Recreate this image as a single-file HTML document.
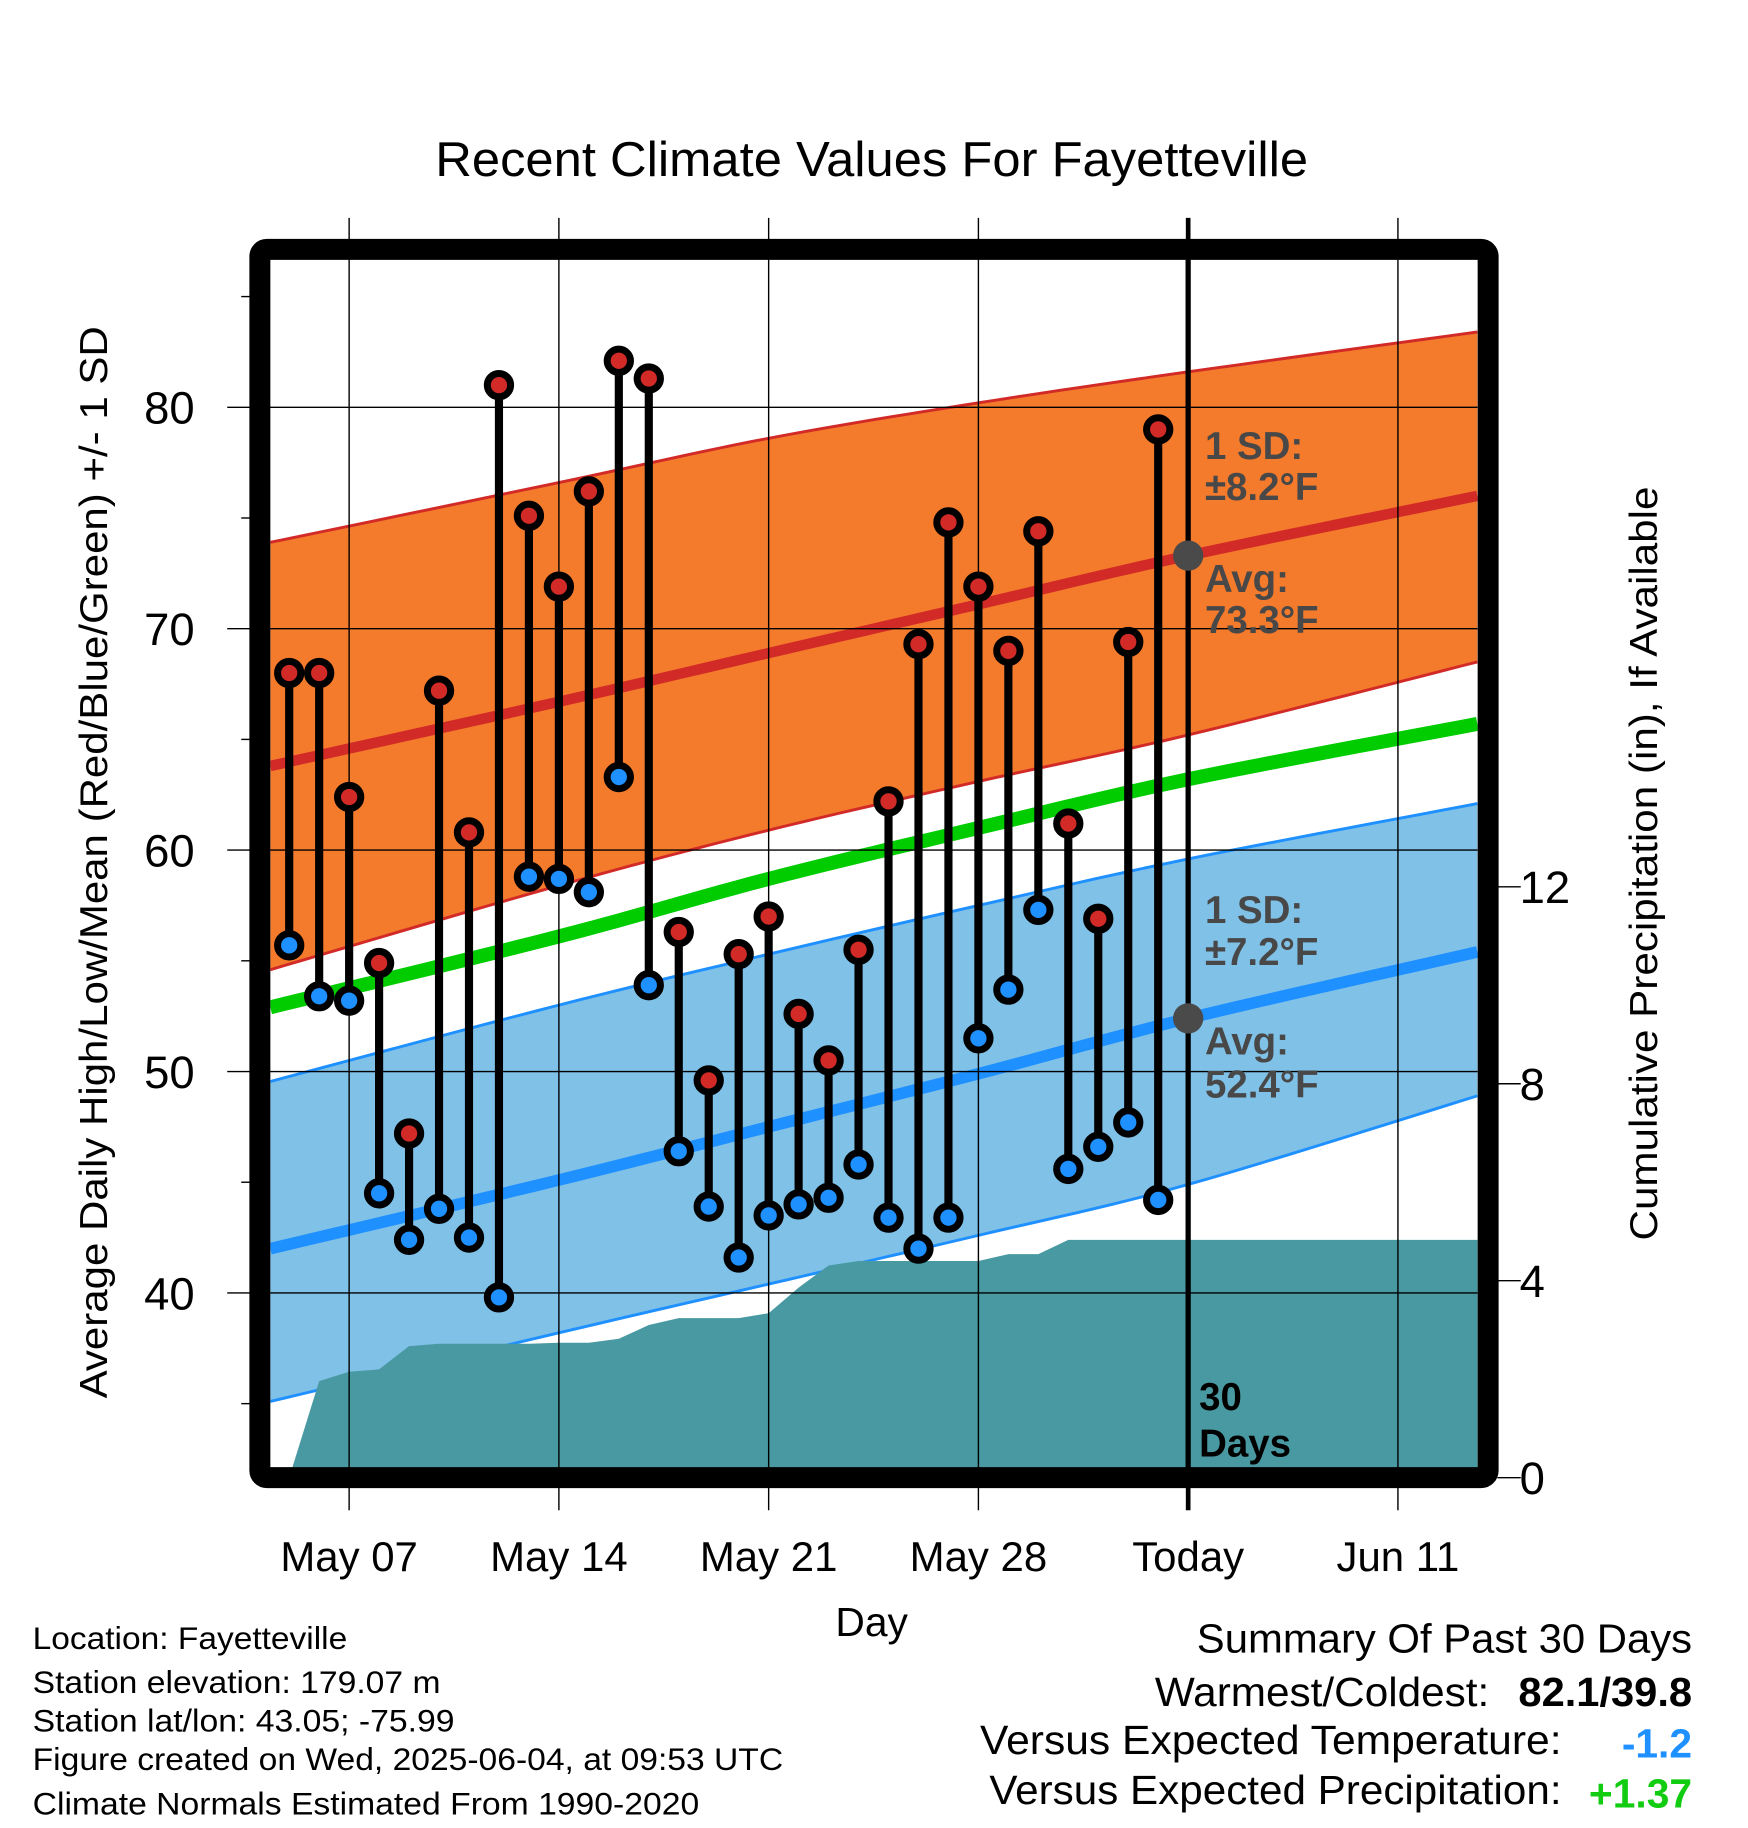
<!DOCTYPE html>
<html><head><meta charset="utf-8"><style>
html,body{margin:0;padding:0;background:#fff;}
svg{display:block;font-family:"Liberation Sans",Arial,sans-serif;}
</style></head><body>
<svg id="chart" width="1748" height="1828" viewBox="0 0 1500 1568.65" preserveAspectRatio="none" xmlns="http://www.w3.org/2000/svg">
<text x="748" y="151" font-size="42" text-anchor="middle" textLength="749" lengthAdjust="spacingAndGlyphs">Recent Climate Values For Fayetteville</text>
<g id="plot"></g>
<text transform="translate(92,740) rotate(-90)" font-size="33" text-anchor="middle" textLength="920" lengthAdjust="spacingAndGlyphs">Average Daily High/Low/Mean (Red/Blue/Green) +/- 1 SD</text>
<text transform="translate(1422,741) rotate(-90)" font-size="33" text-anchor="middle" textLength="647" lengthAdjust="spacingAndGlyphs">Cumulative Precipitation (in), If Available</text>
<text x="748" y="1404" font-size="35" text-anchor="middle">Day</text>
<g font-size="27">
<text x="28" y="1415" textLength="270" lengthAdjust="spacingAndGlyphs">Location: Fayetteville</text>
<text x="28" y="1453" textLength="350" lengthAdjust="spacingAndGlyphs">Station elevation: 179.07 m</text>
<text x="28" y="1486" textLength="362" lengthAdjust="spacingAndGlyphs">Station lat/lon: 43.05; -75.99</text>
<text x="28" y="1519" textLength="644" lengthAdjust="spacingAndGlyphs">Figure created on Wed, 2025-06-04, at 09:53 UTC</text>
<text x="28" y="1557" textLength="572" lengthAdjust="spacingAndGlyphs">Climate Normals Estimated From 1990-2020</text>
</g>
<g font-size="35">
<text x="1027" y="1418" textLength="425" lengthAdjust="spacingAndGlyphs">Summary Of Past 30 Days</text>
<text x="991" y="1464" textLength="287" lengthAdjust="spacingAndGlyphs">Warmest/Coldest:</text>
<text x="1303" y="1464" font-weight="bold" textLength="149" lengthAdjust="spacingAndGlyphs">82.1/39.8</text>
<text x="841" y="1505" textLength="499" lengthAdjust="spacingAndGlyphs">Versus Expected Temperature:</text>
<text x="1452" y="1508" font-weight="bold" fill="#1E90FF" text-anchor="end">-1.2</text>
<text x="849" y="1548" textLength="491" lengthAdjust="spacingAndGlyphs">Versus Expected Precipitation:</text>
<text x="1452" y="1551" font-weight="bold" fill="#11CC11" text-anchor="end">+1.37</text>
</g>
</svg>
<script>
// ---- data ----
const obsDays=[-2,-1,0,1,2,3,4,5,6,7,8,9,10,11,12,13,14,15,16,17,18,19,20,21,22,23,24,25,26,27];
const highs=[68.0,68.0,62.4,54.9,47.2,67.2,60.8,81.0,75.1,71.9,76.2,82.1,81.3,56.3,49.6,55.3,57.0,52.6,50.5,55.5,62.2,69.3,74.8,71.9,69.0,74.4,61.2,56.9,69.4,79.0];
const lows=[55.7,53.4,53.2,44.5,42.4,43.8,42.5,39.8,58.8,58.7,58.1,63.3,53.9,46.4,43.9,41.6,43.5,44.0,44.3,45.8,43.4,42.0,43.4,51.5,53.7,57.3,45.6,46.6,47.7,44.2];
const precip=[0,1.96,2.15,2.2,2.67,2.72,2.72,2.72,2.72,2.74,2.74,2.82,3.10,3.24,3.24,3.24,3.34,3.86,4.31,4.40,4.40,4.40,4.40,4.40,4.54,4.54,4.83,4.83,4.83,4.83];
const normDays=[-2.63,7,14,21,28,37.65];
const highUpper=[73.9,76.6,78.6,80.2,81.6,83.4];
const highAvg=[63.8,66.7,68.9,71.1,73.3,76.0];
const highLower=[54.6,58.4,60.9,63.1,65.2,68.5];
const meanAvg=[52.9,56.1,58.7,61.0,63.2,65.7];
const lowUpper=[49.55,53.0,55.3,57.5,59.6,62.1];
const lowAvg=[42.0,45.1,47.5,49.9,52.4,55.4];
const lowLower=[35.1,38.2,40.4,42.6,44.9,48.9];
const xTickDays=[0,7,14,21,28,35];
const xTickLabels=["May 07","May 14","May 21","May 28","Today","Jun 11"];
const yTicks=[40,50,60,70,80];
const yMinor=[35,45,55,65,75,85];
const y2Ticks=[0,4,8,12];
const todayDay=28;

// ---- scales ----
const X0=232,X1=1268,Y0=223,Y1=1259.5;
function xs(d){return 299.6+d*25.714;}
function ys(t){return 349.5+(80-t)*19;}
function yp(p){return 1268-p*42.25;}
const NS="http://www.w3.org/2000/svg";
const plot=document.getElementById('plot');
function mk(tag,attrs,parent){const e=document.createElementNS(NS,tag);for(const k in attrs)e.setAttribute(k,attrs[k]);(parent||plot).appendChild(e);return e;}
const defs=mk('defs',{});
const cp=mk('clipPath',{id:'clip'},defs);
mk('rect',{x:X0,y:Y0,width:X1-X0,height:Y1-Y0},cp);
const g=mk('g',{'clip-path':'url(#clip)'});
function smooth(arr){
  const pts=normDays.map((d,i)=>[xs(d),ys(arr[i])]);
  const out=[];
  for(let i=0;i<pts.length-1;i++){
    const p0=pts[Math.max(0,i-1)],p1=pts[i],p2=pts[i+1],p3=pts[Math.min(pts.length-1,i+2)];
    for(let k=0;k<12;k++){
      const t=k/12,t2=t*t,t3=t2*t;
      const f=(a,b,c,d)=>0.5*((2*b)+(-a+c)*t+(2*a-5*b+4*c-d)*t2+(-a+3*b-3*c+d)*t3);
      out.push([f(p0[0],p1[0],p2[0],p3[0]),f(p0[1],p1[1],p2[1],p3[1])]);
    }
  }
  out.push(pts[pts.length-1]);
  return out;
}
function linePts(arr){return smooth(arr).map(p=>p[0]+','+p[1]).join(' ');}
function bandPts(up,lo){return smooth(up).concat(smooth(lo).reverse()).map(p=>p[0]+','+p[1]).join(' ');}
let e;
e=mk('polygon',{points:bandPts(highUpper,highLower),fill:'#F47A2C'},g);


e=mk('polygon',{points:bandPts(lowUpper,lowLower),fill:'#80C1E8'},g);


[[highUpper,'#D12A27',2.5,'high-upper-line'],[highLower,'#D12A27',2.5,'high-lower-line'],[lowUpper,'#1E90FF',2.5,'low-upper-line'],[lowLower,'#1E90FF',2.5,'low-lower-line'],[highAvg,'#D12A27',9,'high-avg-line'],[meanAvg,'#00CC00',12,'mean-avg-line'],[lowAvg,'#1E90FF',10,'low-avg-line']].forEach(s=>{
  const l=mk('polyline',{points:linePts(s[0]),fill:'none',stroke:s[1],'stroke-width':s[2]},g);
  
  
});
xTickDays.forEach((d,i)=>{
  const gl=mk('line',{x1:xs(d),x2:xs(d),y1:187,y2:1296,stroke:'#000','stroke-width':d===todayDay?4:1.2});
  
  
  const t=mk('text',{x:xs(d),y:1348,'font-size':36,'text-anchor':'middle'});
  t.textContent=xTickLabels[i];
  
  
});
yTicks.forEach(v=>{
  const gl=mk('line',{x1:195,x2:X1,y1:ys(v),y2:ys(v),stroke:'#000','stroke-width':1.2});
  
  
  const t=mk('text',{x:167,y:ys(v)+14,'font-size':39,'text-anchor':'end'});
  t.textContent=v;
  
  
});
yMinor.forEach(v=>{
  const tk=mk('line',{x1:207,x2:215,y1:ys(v),y2:ys(v),stroke:'#000','stroke-width':1.2});
  
  
});
y2Ticks.forEach(v=>{
  const tk=mk('line',{x1:1285,x2:1305,y1:yp(v),y2:yp(v),stroke:'#000','stroke-width':1.2});
  
  
  const t=mk('text',{x:1304,y:yp(v)+14,'font-size':39});
  t.textContent=v;
  
  
});
let pp=[xs(obsDays[0])+','+(Y1+20)];
obsDays.forEach((d,i)=>pp.push(xs(d)+','+yp(precip[i])));
pp.push(X1+','+yp(precip[precip.length-1]));
pp.push(X1+','+(Y1+20));
e=mk('polygon',{points:pp.join(' '),fill:'#4899A2'},g);


e=mk('line',{x1:xs(todayDay),x2:xs(todayDay),y1:Y0,y2:Y1,stroke:'#000','stroke-width':4.5},g);


e=mk('rect',{x:223,y:214,width:1054,height:1054,fill:'none',stroke:'#000','stroke-width':18,rx:6});


obsDays.forEach((d,i)=>{
  const s=mk('line',{x1:xs(d),x2:xs(d),y1:ys(highs[i]),y2:ys(lows[i]),stroke:'#000','stroke-width':7});
  
  
});
obsDays.forEach((d,i)=>{
  [[highs[i],'#D12A27','high-marker'],[lows[i],'#1E90FF','low-marker']].forEach(m=>{
    const c=mk('circle',{cx:xs(d),cy:ys(m[0]),r:10,fill:m[1],stroke:'#000','stroke-width':6});
    
    
  });
});
[[73.3,'today-high-normal-dot'],[52.4,'today-low-normal-dot']].forEach(n=>{
  const c=mk('circle',{cx:xs(todayDay),cy:ys(n[0]),r:13,fill:'#4a4a4a'});
  
  
});
const ann=[["1 SD:",394],["±8.2°F",429],["Avg:",508],["73.3°F",543],["1 SD:",792],["±7.2°F",828],["Avg:",905],["52.4°F",942]];
ann.forEach(a=>{
  const t=mk('text',{x:1034,y:a[1],'font-size':33,'font-weight':'bold',fill:'#484848'});
  t.textContent=a[0];
  
  
});
[["30",1210],["Days",1250]].forEach(a=>{
  const t=mk('text',{x:1029,y:a[1],'font-size':33,'font-weight':'bold',fill:'#000'});
  t.textContent=a[0];
  
  
});
</script>
</body></html>
